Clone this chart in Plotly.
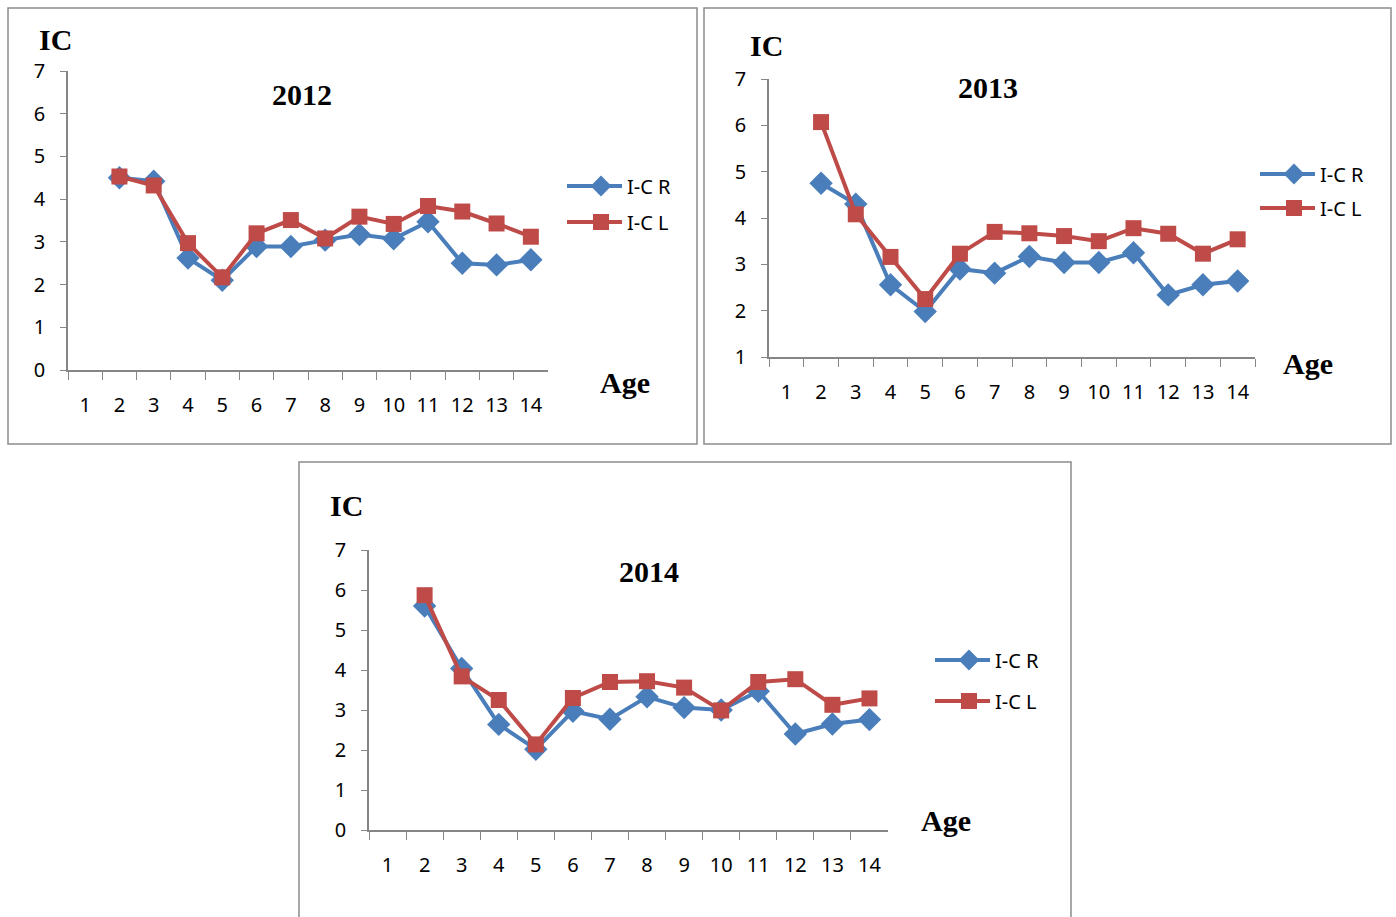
import plotly.graph_objects as go

W, H = 1396, 917

ages = [str(a) for a in range(1, 15)]
ytick_2012 = [0, 1, 2, 3, 4, 5, 6, 7]
ytick_2013 = [1, 2, 3, 4, 5, 6, 7]
ytick_2014 = [0, 1, 2, 3, 4, 5, 6, 7]

r_2012 = [None, 4.5, 4.42, 2.62, 2.1, 2.89, 2.89, 3.04, 3.17, 3.07, 3.47, 2.5, 2.46, 2.58]
l_2012 = [None, 4.53, 4.32, 2.97, 2.17, 3.2, 3.51, 3.08, 3.59, 3.42, 3.84, 3.71, 3.43, 3.12]

r_2013 = [None, 4.75, 4.3, 2.56, 1.98, 2.9, 2.81, 3.17, 3.04, 3.04, 3.25, 2.34, 2.56, 2.64]
l_2013 = [None, 6.07, 4.08, 3.16, 2.25, 3.23, 3.7, 3.67, 3.61, 3.5, 3.78, 3.66, 3.23, 3.54]

r_2014 = [None, 5.6, 4.04, 2.64, 2.02, 2.97, 2.77, 3.33, 3.06, 3.0, 3.47, 2.4, 2.65, 2.76]
l_2014 = [None, 5.87, 3.84, 3.25, 2.14, 3.3, 3.7, 3.72, 3.56, 2.99, 3.7, 3.77, 3.13, 3.29]

BLUE = "#4A7EBB"
RED = "#BE4B48"
AX = "#868686"

def px(x):
    return x / W

def py(y):
    return 1 - y / H

panels = [
    dict(year="2012", r=r_2012, l=l_2012, yt=ytick_2012, yr=[0, 7],
         box=(68, 548, 71, 370), border=(8, 697, 8, 444),
         ic=(55, 39), title=(302, 94), age=(625, 383), leg=(594, 186, 222)),
    dict(year="2013", r=r_2013, l=l_2013, yt=ytick_2013, yr=[1, 7],
         box=(769, 1255, 79, 357), border=(704, 1391, 8, 444),
         ic=(766, 45), title=(988, 87), age=(1308, 363), leg=(1287, 174, 208)),
    dict(year="2014", r=r_2014, l=l_2014, yt=ytick_2014, yr=[0, 7],
         box=(369, 888, 550, 830), border=(299, 1071, 462, 930),
         ic=(346, 505), title=(649, 571), age=(946, 820), leg=(962, 660, 701)),
]

fig = go.Figure()
layout = dict(width=W, height=H, margin=dict(l=0, r=0, t=0, b=0, autoexpand=False),
              paper_bgcolor="white", plot_bgcolor="white", showlegend=True)
shapes = []
annotations = []

tickfont = dict(family="Noto Sans, Open Sans, sans-serif", size=20, color="#000000")
serif = dict(family="Liberation Serif, Times New Roman, serif", size=30, color="#000000")

leg_idx = 1
for i, p in enumerate(panels, start=1):
    xa = "xaxis" if i == 1 else f"xaxis{i}"
    ya = "yaxis" if i == 1 else f"yaxis{i}"
    xref = "x" if i == 1 else f"x{i}"
    yref = "y" if i == 1 else f"y{i}"
    x0, x1, yt, yb = p["box"]
    layout[xa] = dict(domain=[px(x0), px(x1)], anchor=yref, type="category",
                      categoryorder="array", categoryarray=ages, range=[-0.5, 13.5],
                      tickson="boundaries", ticks="outside", ticklen=8, tickwidth=1.3,
                      tickcolor=AX, showline=True, linecolor=AX, linewidth=1.5,
                      showgrid=False, zeroline=False, tickfont=tickfont,
                      ticklabelstandoff=16, fixedrange=True, automargin=False)
    layout[ya] = dict(domain=[py(yb), py(yt)], anchor=xref, range=p["yr"],
                      tickvals=p["yt"], ticks="outside", ticklen=6, tickwidth=1.3,
                      tickcolor=AX, showline=True, linecolor=AX, linewidth=1.5,
                      showgrid=False, zeroline=False, tickfont=tickfont,
                      ticklabelstandoff=11, fixedrange=True, automargin=False)
    mx, ly1, ly2 = p["leg"]
    for name, vals, col, sym, ly in (("I-C R", p["r"], BLUE, "diamond", ly1),
                                     ("I-C L", p["l"], RED, "square", ly2)):
        lname = "legend" if leg_idx == 1 else f"legend{leg_idx}"
        fig.add_trace(go.Scatter(
            x=ages, y=vals, name=name, mode="lines+markers",
            line=dict(color=col, width=4),
            marker=dict(symbol=sym, size=18 if sym == "diamond" else 16, color=col),
            xaxis=xref, yaxis=yref, legend=lname, connectgaps=False))
        layout[lname] = dict(x=px(mx - 19), y=py(ly), xanchor="left", yanchor="middle",
                             bgcolor="rgba(0,0,0,0)", borderwidth=0,
                             font=dict(family="Noto Sans, Open Sans, sans-serif", size=20,
                                       color="#000000"),
                             itemwidth=42)
        # longer legend sample line (legend decoration)
        shapes.append(dict(type="line", xref="paper", yref="paper",
                           x0=px(mx - 27), x1=px(mx + 27), y0=py(ly), y1=py(ly),
                           line=dict(color=col, width=4), layer="above"))
        leg_idx += 1
    bx0, bx1, by0, by1 = p["border"]
    shapes.append(dict(type="rect", xref="paper", yref="paper",
                       x0=px(bx0), x1=px(bx1), y0=py(by1), y1=py(by0),
                       line=dict(color="#8C8C8C", width=1.5), fillcolor="rgba(0,0,0,0)",
                       layer="below"))
    for txt, (ax_, ay_) in (("IC", p["ic"]), (p["year"], p["title"]), ("Age", p["age"])):
        annotations.append(dict(text=f"<b>{txt}</b>", xref="paper", yref="paper",
                                x=px(ax_), y=py(ay_), xanchor="center", yanchor="middle",
                                showarrow=False, font=serif))

layout["shapes"] = shapes
layout["annotations"] = annotations
fig.update_layout(**layout)
fig.write_html("out.html", config={"displayModeBar": False},
               post_script="document.body.style.margin='0';document.body.style.overflow='hidden';")
